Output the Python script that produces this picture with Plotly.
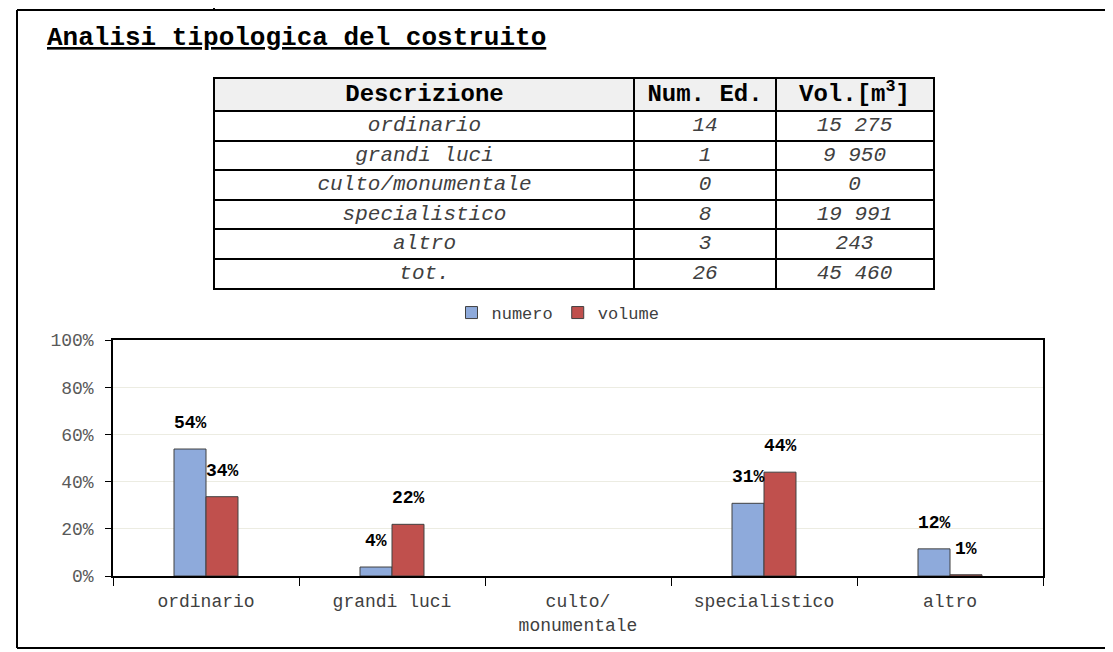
import plotly.graph_objects as go

# table data
tipologie = ["ordinario", "grandi luci", "culto/monumentale", "specialistico", "altro", "tot."]
num_edifici = ["14", "1", "0", "8", "3", "26"]
volumi = ["15 275", "9 950", "0", "19 991", "243", "45 460"]
intestazioni = ["Descrizione", "Num. Ed.", "Vol.[m<sup>3</sup>]"]

# chart data (percentages)
categorie = ["ordinario", "grandi luci", "culto/<br>monumentale", "specialistico", "altro"]
perc_numero = [0.538, 0.038, 0.0, 0.308, 0.115]
perc_volume = [0.336, 0.219, 0.0, 0.440, 0.0053]

OFF = 8                      # page offset of the plot div in the browser
W, H = 1113 - OFF, 652 - OFF
X0, X1, Y1 = 113, 1043, 576  # plot area in screen pixels (left, right, bottom)
L, R, T, B = X0 - OFF, W - (X1 - OFF), 20, H - (Y1 - OFF)
PW = W - L - R
PH = H - T - B
FONT = "Liberation Mono"
BLUE = "#8EAADB"
RED = "#C0504D"


def px_x(x):
    return (x - X0) / PW


def px_y(y):
    return (Y1 - y) / PH


fig = go.Figure()

# --- table drawn on its own axes (x2/y2), one unit = one pixel
col_w = [419, 142, 157]
row_h = [32] + [29.5] * len(tipologie)
col_edges = [sum(col_w[:i]) for i in range(len(col_w) + 1)]
row_edges = [sum(row_h[:i]) for i in range(len(row_h) + 1)]
col_mid = [(a + b) / 2 for a, b in zip(col_edges[:-1], col_edges[1:])]
row_mid = [(a + b) / 2 for a, b in zip(row_edges[:-1], row_edges[1:])]

fig.add_trace(go.Scatter(x=col_mid, y=[row_mid[0]] * 3, mode="text", xaxis="x2", yaxis="y2",
                         text=["<b>%s</b>" % h for h in intestazioni], showlegend=False, hoverinfo="skip",
                         textfont=dict(family=FONT, size=24, color="black")))
for i, col in enumerate([tipologie, num_edifici, volumi]):
    fig.add_trace(go.Scatter(x=[col_mid[i]] * len(col), y=row_mid[1:], mode="text", xaxis="x2", yaxis="y2",
                             text=["<i>%s</i>" % c for c in col], showlegend=False, hoverinfo="skip",
                             textfont=dict(family=FONT, size=21, color="#404040")))

fig.add_shape(type="rect", xref="x2", yref="y2", x0=col_edges[0], x1=col_edges[-1],
              y0=row_edges[0], y1=row_edges[1], fillcolor="#F0F0F0", line=dict(width=0), layer="below")

# --- bars
fig.add_trace(go.Bar(x=categorie, y=perc_numero, name="numero",
                     marker=dict(color=BLUE, line=dict(color="#404040", width=[1 if v > 0 else 0 for v in perc_numero]))))
fig.add_trace(go.Bar(x=categorie, y=perc_volume, name="volume",
                     marker=dict(color=RED, line=dict(color="#404040", width=[1 if v > 0 else 0 for v in perc_volume]))))

# bar value labels
for vals, shift in [(perc_numero, -16), (perc_volume, 16)]:
    for c, v in zip(categorie, vals):
        if v == 0:
            continue
        fig.add_annotation(x=c, y=v, xref="x", yref="y", xshift=shift, yshift=26,
                           text="<b>%d%%</b>" % round(v * 100), showarrow=False,
                           font=dict(family=FONT, size=18, color="black"))

# title
fig.add_annotation(x=px_x(45), y=px_y(38), xref="paper", yref="paper", xanchor="left", yanchor="middle",
                   text="<b>Analisi tipologica del costruito</b>", showarrow=False,
                   font=dict(family=FONT, size=26, color="black", lineposition="under"))

# frame of the page box
frame = dict(color="black", width=2)
fig.add_shape(type="line", xref="paper", yref="paper", x0=px_x(17), x1=px_x(1125), y0=px_y(10), y1=px_y(10), line=frame)
fig.add_shape(type="line", xref="paper", yref="paper", x0=px_x(17), x1=px_x(1125), y0=px_y(648), y1=px_y(648), line=frame)
fig.add_shape(type="line", xref="paper", yref="paper", x0=px_x(17), x1=px_x(17), y0=px_y(10), y1=px_y(648), line=frame)
fig.add_shape(type="line", xref="paper", yref="paper", x0=px_x(214), x1=px_x(214), y0=px_y(0), y1=px_y(10), line=frame)

fig.update_layout(
    width=W, height=H,
    margin=dict(l=L, r=R, t=T, b=B),
    paper_bgcolor="white", plot_bgcolor="white",
    barmode="group", bargap=0.656, bargroupgap=0,
    font=dict(family=FONT, color="#404040"),
    legend=dict(orientation="h", x=px_x(558), xanchor="center", y=px_y(313), yanchor="middle",
                font=dict(family=FONT, size=17, color="#404040"), itemwidth=30, bgcolor="rgba(0,0,0,0)"),
    xaxis=dict(domain=[0, 1], showline=True, linecolor="black", linewidth=1.5, mirror=True,
               ticks="outside", tickson="boundaries", ticklen=8, tickcolor="black", ticklabelstandoff=8,
               tickfont=dict(family=FONT, size=18, color="#404040"), showgrid=False, fixedrange=True),
    yaxis=dict(domain=[0, px_y(340)], range=[0, 1], dtick=0.2, tickformat=".0%",
               showline=True, linecolor="black", linewidth=1.5, mirror=True,
               ticks="outside", ticklen=6, tickcolor="black", zeroline=False, ticklabelstandoff=8,
               showgrid=True, gridcolor="#ECECE2", gridwidth=1, fixedrange=True,
               tickfont=dict(family=FONT, size=18, color="#595959")),
    xaxis2=dict(domain=[px_x(215), px_x(933)], anchor="y2", range=[col_edges[0], col_edges[-1]],
                tickvals=col_edges[1:-1], showticklabels=False, ticks="", showgrid=True,
                gridcolor="black", gridwidth=2, zeroline=False, showline=True, mirror=True,
                linecolor="black", linewidth=2, fixedrange=True),
    yaxis2=dict(domain=[px_y(288), px_y(79)], anchor="x2", range=[row_edges[-1], row_edges[0]],
                tickvals=row_edges[1:-1], showticklabels=False, ticks="", showgrid=True,
                gridcolor="black", gridwidth=2, zeroline=False, showline=True, mirror=True,
                linecolor="black", linewidth=2, fixedrange=True),
)

fig.write_html("out.html", config=dict(displayModeBar=False))
